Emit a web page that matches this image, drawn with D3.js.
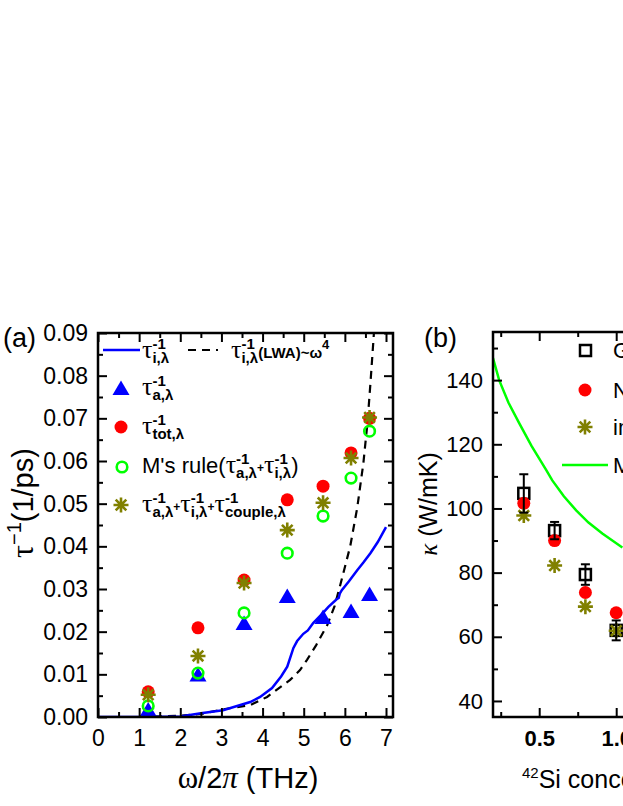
<!DOCTYPE html>
<html>
<head>
<meta charset="utf-8">
<script src="https://cdn.jsdelivr.net/npm/d3@7"></script>
<style>
body { margin: 0; background: #fff; }
svg { display: block; }
text { font-family: "Liberation Sans", Arial, sans-serif; fill: #000; }
</style>
</head>
<body>
<svg id="chart" width="623" height="806"></svg>
<script>
// ---- panel (a): scattering rates vs frequency
var freq      = [1.22, 2.43, 3.55, 4.6, 5.47, 6.15, 6.6];
var tauA      = [0.0015, 0.0097, 0.0218, 0.0281, 0.0232, 0.0246, 0.0286];
var tauTot    = [0.0059, 0.0209, 0.0321, 0.0509, 0.0541, 0.0619, 0.0700];
var tauMR     = [0.0026, 0.0103, 0.0244, 0.0384, 0.0471, 0.0560, 0.0670];
var tauCouple = [0.0052, 0.0143, 0.0314, 0.0438, 0.0502, 0.0607, 0.0702];

// tau_i line
var tauIFreq = [0, 1, 2, 2.5, 3.04, 3.7, 3.94, 4.23, 4.45, 4.6, 4.75, 4.84, 4.99, 5.1, 5.23, 5.47, 5.6, 5.8, 5.85, 5.88, 5.93, 6.1, 6.3, 6.45, 6.62, 6.8, 7.0];
var tauIVal  = [0, 0, 0.0001, 0.0009, 0.0016, 0.0035, 0.0047, 0.0068, 0.0095, 0.0118, 0.0162, 0.0178, 0.0195, 0.0203, 0.0220, 0.0244, 0.0258, 0.0276, 0.0279, 0.0290, 0.0298, 0.0318, 0.0344, 0.0362, 0.0384, 0.0410, 0.0445];

// LWA ~ w^4 dashed line
var lwaFreq = [0, 1, 2, 2.5, 3.04, 3.7, 4.11, 4.67, 4.91, 5.08, 5.3, 5.57, 5.75, 5.89, 6.13, 6.3, 6.45, 6.55, 6.62, 6.69, 6.72];
var lwaVal  = [0, 0, 0.0003, 0.0007, 0.0018, 0.0028, 0.0047, 0.0087, 0.011, 0.0134, 0.0168, 0.0215, 0.026, 0.031, 0.040, 0.049, 0.0595, 0.069, 0.078, 0.0877, 0.092];

var xTicksA = [0, 1, 2, 3, 4, 5, 6, 7];
var yTicksA = [0, 0.01, 0.02, 0.03, 0.04, 0.05, 0.06, 0.07, 0.08, 0.09];

// ---- panel (b): kappa vs 42Si concentration
var conc        = [0.4, 0.6, 0.8, 1.0];
var kappaGK     = [104.7, 93.1, 79.4, 62.0];
var kappaGKErr  = [6.0, 2.7, 3.2, 3.1];
var kappaNMA    = [101.6, 90.0, 73.8, 67.5];
var kappaCouple = [97.8, 82.2, 69.4, 61.9];
var mrConc  = [0.2, 0.24, 0.3, 0.37, 0.45, 0.545, 0.585, 0.66, 0.74, 0.82, 0.91, 1.04];
var mrKappa = [146.9, 140, 133, 126.6, 119.5, 112, 108.75, 103.8, 99.4, 95.6, 92.2, 87.8];

var xTicksB = [0.5, 1.0, 1.5];
var yTicksB = [40, 60, 80, 100, 120, 140];

var BLUE = "#0000ff", RED = "#ff0000", GREEN = "#00ff00", OLIVE = "#808000";
var SERIF = "'Liberation Serif', 'DejaVu Serif', serif";

var svg = d3.select("#chart");

// star (asterisk) marker path, 8 arms
function starPath(cx, cy, r) {
    var d = "", k = r * Math.SQRT1_2;
    d += "M" + (cx - r) + "," + cy + "L" + (cx + r) + "," + cy;
    d += "M" + cx + "," + (cy - r) + "L" + cx + "," + (cy + r);
    d += "M" + (cx - k) + "," + (cy - k) + "L" + (cx + k) + "," + (cy + k);
    d += "M" + (cx - k) + "," + (cy + k) + "L" + (cx + k) + "," + (cy - k);
    return d;
}
function triPath(cx, cy) {
    return "M" + (cx - 8.5) + "," + (cy + 6) + "L" + (cx + 8.5) + "," + (cy + 6) + "L" + cx + "," + (cy - 8.5) + "Z";
}

// lay out text with tau + stacked super/subscripts
function richText(g, x, y, parts) {
    var cx = x;
    parts.forEach(function(p) {
        var t = g.append("text").attr("x", cx).attr("y", y + (p.dy || 0))
            .style("font-size", (p.size || 22) + "px")
            .style("font-weight", p.bold ? "bold" : "normal")
            .text(p.t);
        if (p.serif) t.style("font-family", SERIF);
        cx += t.node().getComputedTextLength();
        var w = 0;
        if (p.sup !== undefined) {
            var s = g.append("text").attr("x", cx).attr("y", y - 9)
                .style("font-size", (p.supSize || 15) + "px").style("font-weight", "bold").text(p.sup);
            w = Math.max(w, s.node().getComputedTextLength());
        }
        if (p.sub !== undefined) {
            var b = g.append("text").attr("x", cx).attr("y", y + 5)
                .style("font-size", "15px").style("font-weight", "bold").text(p.sub);
            w = Math.max(w, b.node().getComputedTextLength());
        }
        cx += w;
    });
    return cx;
}
function tau(sub) { return { t: "τ", serif: true, size: 26, sup: "-1", sub: sub }; }
function plus() { return { t: "+", size: 12, bold: true, dy: -1 }; }

// generic inward-tick frame
function frame(g, x, y, opts) {
    var x0 = x.range()[0], x1 = x.range()[1], y0 = y.range()[0], y1 = y.range()[1];
    var tickMaj = 9, tickMin = 5;

    var bottom = g.append("g").attr("transform", "translate(0," + y0 + ")")
        .call(d3.axisBottom(x).tickValues(opts.xMajor).tickSizeInner(-tickMaj).tickSizeOuter(0)
            .tickPadding(13).tickFormat(opts.xFmt));
    g.append("g").attr("transform", "translate(0," + y0 + ")")
        .call(d3.axisBottom(x).tickValues(opts.xMinor).tickSizeInner(-tickMin).tickSizeOuter(0).tickFormat(""));
    g.append("g").attr("transform", "translate(0," + y1 + ")")
        .call(d3.axisTop(x).tickValues(opts.xMajor).tickSizeInner(-tickMaj).tickSizeOuter(0).tickFormat(""));
    g.append("g").attr("transform", "translate(0," + y1 + ")")
        .call(d3.axisTop(x).tickValues(opts.xMinor).tickSizeInner(-tickMin).tickSizeOuter(0).tickFormat(""));

    var left = g.append("g").attr("transform", "translate(" + x0 + ",0)")
        .call(d3.axisLeft(y).tickValues(opts.yMajor).tickSizeInner(-tickMaj).tickSizeOuter(0)
            .tickPadding(10).tickFormat(opts.yFmt));
    g.append("g").attr("transform", "translate(" + x0 + ",0)")
        .call(d3.axisLeft(y).tickValues(opts.yMinor).tickSizeInner(-tickMin).tickSizeOuter(0).tickFormat(""));
    g.append("g").attr("transform", "translate(" + x1 + ",0)")
        .call(d3.axisRight(y).tickValues(opts.yMajor).tickSizeInner(-tickMaj).tickSizeOuter(0).tickFormat(""));
    g.append("g").attr("transform", "translate(" + x1 + ",0)")
        .call(d3.axisRight(y).tickValues(opts.yMinor).tickSizeInner(-tickMin).tickSizeOuter(0).tickFormat(""));

    g.selectAll(".domain").remove();
    g.selectAll(".tick line").attr("stroke", "#000").attr("stroke-width", 2);
    g.selectAll(".tick text").style("font-family", "'Liberation Sans', Arial, sans-serif").attr("fill", "#000");
    bottom.selectAll(".tick text").style("font-size", opts.xSize).style("font-weight", opts.xWeight);
    left.selectAll(".tick text").style("font-size", opts.ySize);

    g.append("rect").attr("x", x0).attr("y", y1).attr("width", x1 - x0).attr("height", y0 - y1)
        .attr("fill", "none").attr("stroke", "#000").attr("stroke-width", 2.5);
}

// ================= panel (a)
var xa = d3.scaleLinear().domain([0, 7.17]).range([98, 393]);
var ya = d3.scaleLinear().domain([0, 0.09]).range([717, 333]);
var ga = svg.append("g");

ga.append("clipPath").attr("id", "clipA").append("rect")
    .attr("x", 98).attr("y", 333).attr("width", 295).attr("height", 384);

var plotA = ga.append("g").attr("clip-path", "url(#clipA)");
var line = d3.line();

plotA.append("path")
    .attr("d", line(lwaFreq.map(function(f, i) { return [xa(f), ya(lwaVal[i])]; })))
    .attr("fill", "none").attr("stroke", "#000").attr("stroke-width", 2.2).attr("stroke-dasharray", "8,6");
plotA.append("path")
    .attr("d", line(tauIFreq.map(function(f, i) { return [xa(f), ya(tauIVal[i])]; })))
    .attr("fill", "none").attr("stroke", BLUE).attr("stroke-width", 2.5);

plotA.selectAll(".tri").data(freq).enter().append("path")
    .attr("d", function(d, i) { return triPath(xa(d), ya(tauA[i])); }).attr("fill", BLUE);
plotA.selectAll(".tot").data(freq).enter().append("circle")
    .attr("cx", function(d) { return xa(d); }).attr("cy", function(d, i) { return ya(tauTot[i]); })
    .attr("r", 6.5).attr("fill", RED);
plotA.selectAll(".mr").data(freq).enter().append("circle")
    .attr("cx", function(d) { return xa(d); }).attr("cy", function(d, i) { return ya(tauMR[i]); })
    .attr("r", 5.3).attr("fill", "none").attr("stroke", GREEN).attr("stroke-width", 2.6);
plotA.selectAll(".cpl").data(freq).enter().append("path")
    .attr("d", function(d, i) { return starPath(xa(d), ya(tauCouple[i]), 7.5); })
    .attr("stroke", OLIVE).attr("stroke-width", 2.6).attr("fill", "none");

frame(ga, xa, ya, {
    xMajor: xTicksA, xMinor: [0.5, 1.5, 2.5, 3.5, 4.5, 5.5, 6.5],
    yMajor: yTicksA, yMinor: [0.005, 0.015, 0.025, 0.035, 0.045, 0.055, 0.065, 0.075, 0.085],
    xFmt: d3.format("d"), yFmt: d3.format(".2f"),
    xSize: "23px", xWeight: "normal", ySize: "23px"
});

// legend (a)
var la = ga.append("g");
la.append("line").attr("x1", 103).attr("x2", 140).attr("y1", 350).attr("y2", 350)
    .attr("stroke", BLUE).attr("stroke-width", 2.5);
richText(la, 142, 358, [tau("i,λ")]);
la.append("line").attr("x1", 188).attr("x2", 218).attr("y1", 350).attr("y2", 350)
    .attr("stroke", "#000").attr("stroke-width", 2.2).attr("stroke-dasharray", "8,6");
richText(la, 231, 358, [tau("i,λ"), { t: "(LWA)~ω", size: 15, bold: true, sup: "4", supSize: 13 }]);

la.append("path").attr("d", triPath(121, 389)).attr("fill", BLUE);
richText(la, 142, 395, [tau("a,λ")]);
la.append("circle").attr("cx", 121).attr("cy", 427).attr("r", 6.5).attr("fill", RED);
richText(la, 142, 434, [tau("tot,λ")]);
la.append("circle").attr("cx", 122).attr("cy", 467).attr("r", 5.3)
    .attr("fill", "none").attr("stroke", GREEN).attr("stroke-width", 2.6);
richText(la, 142, 473, [{ t: "M's rule(", size: 22 }, tau("a,λ"), plus(), tau("i,λ"), { t: ")", size: 22 }]);
la.append("path").attr("d", starPath(121, 505, 7.5)).attr("stroke", OLIVE).attr("stroke-width", 2.6);
richText(la, 142, 512, [tau("a,λ"), plus(), tau("i,λ"), plus(), tau("couple,λ")]);

// labels (a)
ga.append("text").attr("x", 3).attr("y", 347).style("font-size", "27px").text("(a)");
var yta = ga.append("text").attr("transform", "translate(33,503) rotate(-90)")
    .attr("text-anchor", "middle").style("font-size", "29px");
yta.append("tspan").style("font-family", SERIF).style("font-size", "32px").text("τ");
yta.append("tspan").attr("dy", -12).style("font-size", "20px").text("−1");
yta.append("tspan").attr("dy", 12).text("(1/ps)");

var xta = ga.append("text").attr("x", 248).attr("y", 788).attr("text-anchor", "middle").style("font-size", "29px");
xta.append("tspan").style("font-family", SERIF).style("font-size", "31px").text("ω");
xta.append("tspan").text("/2");
xta.append("tspan").style("font-family", SERIF).style("font-style", "italic").style("font-size", "31px").text("π");
xta.append("tspan").text(" (THz)");

// ================= panel (b)
var xb = d3.scaleLinear().domain([0.2, 1.6]).range([493, 493 + 1.4 * 154]);
var yb = d3.scaleLinear().domain([35, 155]).range([717, 332]);
var gb = svg.append("g");

gb.append("clipPath").attr("id", "clipB").append("rect")
    .attr("x", 493).attr("y", 332).attr("width", 1.4 * 154).attr("height", 385);
var plotB = gb.append("g").attr("clip-path", "url(#clipB)");

plotB.append("path")
    .attr("d", line(mrConc.map(function(c, i) { return [xb(c), yb(mrKappa[i])]; })))
    .attr("fill", "none").attr("stroke", GREEN).attr("stroke-width", 2.5);

plotB.selectAll(".sq").data(conc).enter().append("rect")
    .attr("x", function(d) { return xb(d) - 5.5; }).attr("y", function(d, i) { return yb(kappaGK[i]) - 5.5; })
    .attr("width", 11).attr("height", 11).attr("fill", "none").attr("stroke", "#000").attr("stroke-width", 2.5);
plotB.selectAll(".nma").data(conc).enter().append("circle")
    .attr("cx", function(d) { return xb(d); }).attr("cy", function(d, i) { return yb(kappaNMA[i]); })
    .attr("r", 6.5).attr("fill", RED);
plotB.selectAll(".cplb").data(conc).enter().append("path")
    .attr("d", function(d, i) { return starPath(xb(d), yb(kappaCouple[i]), 7.5); })
    .attr("stroke", OLIVE).attr("stroke-width", 2.6).attr("fill", "none");

var err = plotB.selectAll(".err").data(conc).enter().append("g").attr("stroke", "#000").attr("stroke-width", 2);
err.append("line")
    .attr("x1", function(d) { return xb(d); }).attr("x2", function(d) { return xb(d); })
    .attr("y1", function(d, i) { return yb(kappaGK[i] + kappaGKErr[i]); })
    .attr("y2", function(d, i) { return yb(kappaGK[i] - kappaGKErr[i]); });
err.append("line")
    .attr("x1", function(d) { return xb(d) - 4.5; }).attr("x2", function(d) { return xb(d) + 4.5; })
    .attr("y1", function(d, i) { return yb(kappaGK[i] + kappaGKErr[i]); })
    .attr("y2", function(d, i) { return yb(kappaGK[i] + kappaGKErr[i]); });
err.append("line")
    .attr("x1", function(d) { return xb(d) - 4.5; }).attr("x2", function(d) { return xb(d) + 4.5; })
    .attr("y1", function(d, i) { return yb(kappaGK[i] - kappaGKErr[i]); })
    .attr("y2", function(d, i) { return yb(kappaGK[i] - kappaGKErr[i]); });

frame(gb, xb, yb, {
    xMajor: xTicksB, xMinor: [0.25, 0.75, 1.25],
    yMajor: yTicksB, yMinor: [50, 70, 90, 110, 130, 150],
    xFmt: d3.format(".1f"), yFmt: d3.format("d"),
    xSize: "22px", xWeight: "bold", ySize: "22px"
});

// legend (b)
var lb = gb.append("g");
lb.append("rect").attr("x", 580).attr("y", 345).attr("width", 11).attr("height", 11)
    .attr("fill", "none").attr("stroke", "#000").attr("stroke-width", 2.5);
lb.append("text").attr("x", 613).attr("y", 358).style("font-size", "22px").text("GK");
lb.append("circle").attr("cx", 585).attr("cy", 390).attr("r", 6.5).attr("fill", RED);
lb.append("text").attr("x", 613).attr("y", 398).style("font-size", "22px").text("NMA");
lb.append("path").attr("d", starPath(585, 427, 7.5)).attr("stroke", OLIVE).attr("stroke-width", 2.6);
lb.append("text").attr("x", 613).attr("y", 435).style("font-size", "22px").text("including coupling");
lb.append("line").attr("x1", 562).attr("x2", 608).attr("y1", 465).attr("y2", 465)
    .attr("stroke", GREEN).attr("stroke-width", 2.5);
lb.append("text").attr("x", 613).attr("y", 473).style("font-size", "22px").text("M's rule");

// labels (b)
gb.append("text").attr("x", 424).attr("y", 347).style("font-size", "27px").text("(b)");
var ytb = gb.append("text").attr("transform", "translate(437,504) rotate(-90)")
    .attr("text-anchor", "middle").style("font-size", "25px");
ytb.append("tspan").style("font-family", SERIF).style("font-style", "italic").text("κ");
ytb.append("tspan").text(" (W/mK)");

var xtb = gb.append("text").attr("x", 522).attr("y", 788).style("font-size", "25px");
xtb.append("tspan").attr("dy", -10).style("font-size", "15px").text("42");
xtb.append("tspan").attr("dy", 10).text("Si concentration (%)");
</script>
</body>
</html>
